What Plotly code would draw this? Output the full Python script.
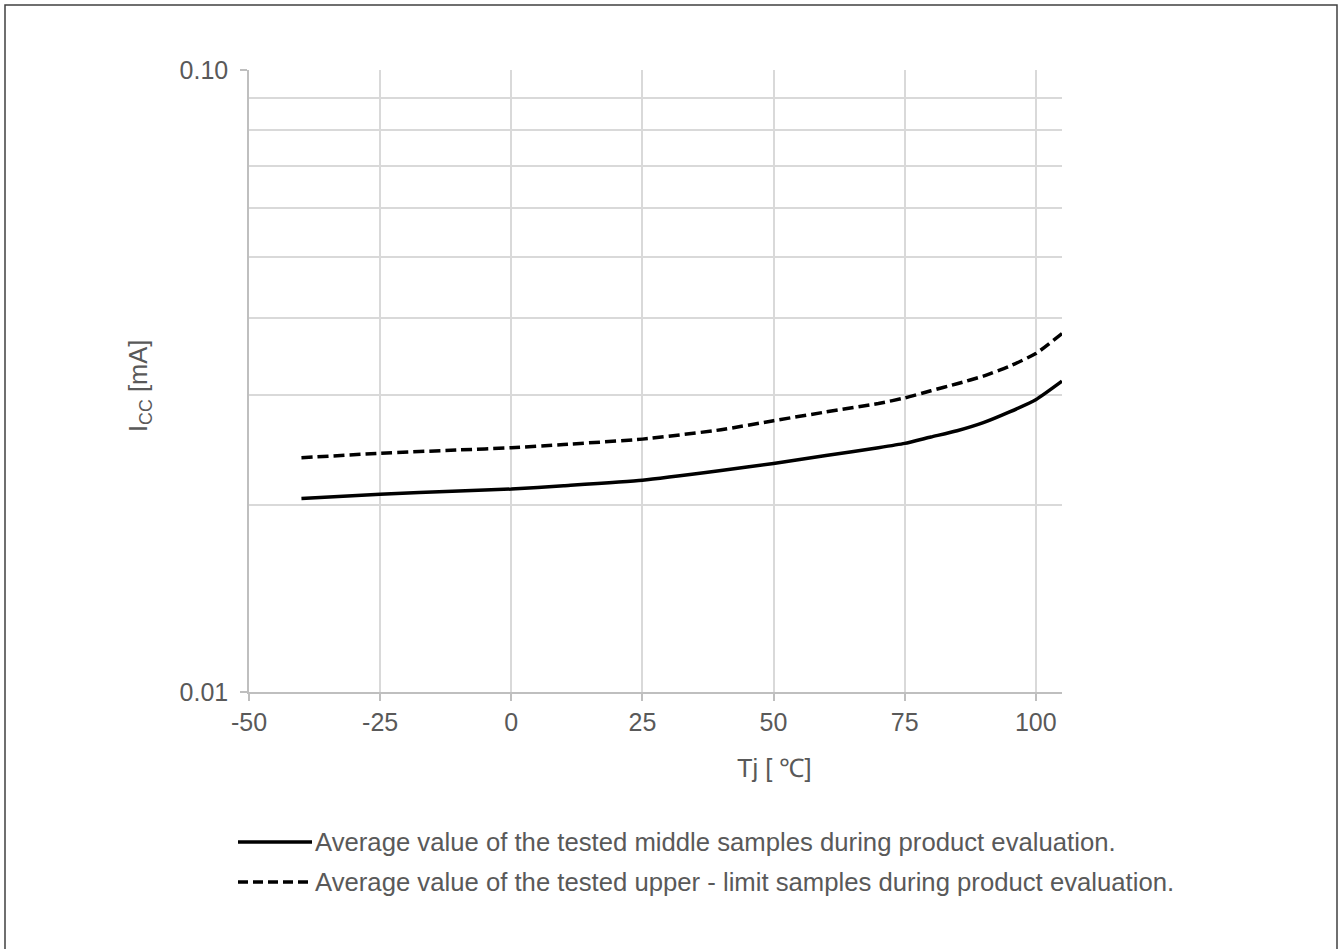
import plotly.graph_objects as go

# ---- data ----
tj = [-40, -25, -10, 0, 10, 25, 40, 50, 60, 70, 75, 80, 85, 90, 95, 100, 105]
icc_middle = [0.02046, 0.0208, 0.02105, 0.0212, 0.02146, 0.0219, 0.0227, 0.0233, 0.0240,
              0.0247, 0.0251, 0.0257, 0.0263, 0.0271, 0.0282, 0.0295, 0.0316]
icc_upper = [0.0238, 0.0242, 0.0245, 0.0247, 0.0250, 0.0255, 0.0264, 0.0273, 0.0282,
             0.0291, 0.0297, 0.0305, 0.0313, 0.0322, 0.0334, 0.0350, 0.0377]
x_ticks = [-50, -25, 0, 25, 50, 75, 100]
x_ticktext = [str(v) for v in x_ticks]
y_ticks = [0.01, 0.1]
y_ticktext = ["0.01", "0.10"]
y_minor = [0.02, 0.03, 0.04, 0.05, 0.06, 0.07, 0.08, 0.09]
legend_texts = [
    "Average value of the tested middle samples during product evaluation.",
    "Average value of the tested upper - limit samples during product evaluation.",
]
x_title = "Tj [ ℃]"
y_title = "I<sub>CC</sub> [mA]"

FONT = "Liberation Sans, Arial, sans-serif"
TXT = "#595959"
GRID = "#d9d9d9"
AX = "#bfbfbf"

W, H = 1339, 949
L, R, T, B = 249, 277, 70, 257
PW, PH = W - L - R, H - T - B


def px(xp):
    return (xp - L) / PW


def py(yp):
    return (H - B - yp) / PH


fig = go.Figure()
fig.add_trace(go.Scatter(x=tj, y=icc_middle, mode="lines", name=legend_texts[0],
                         line=dict(color="black", width=3.5, shape="spline", smoothing=0.5),
                         showlegend=False))
fig.add_trace(go.Scatter(x=tj, y=icc_upper, mode="lines", name=legend_texts[1],
                         line=dict(color="black", width=3.5, dash="11px,5px", shape="spline", smoothing=0.5),
                         showlegend=False))

shapes = []
annotations = []
# legend (drawn manually)
for i, (txt, dash) in enumerate(zip(legend_texts, ["solid", "10px,5px"])):
    yl = py(842 + 40 * i)
    shapes.append(dict(type="line", xref="paper", yref="paper", x0=px(238), x1=px(312),
                       y0=yl, y1=yl, line=dict(color="black", width=3.5, dash=dash)))
    annotations.append(dict(xref="paper", yref="paper", x=px(313), y=yl, text=txt,
                            showarrow=False, xanchor="left", yanchor="middle",
                            font=dict(family=FONT, size=25.7, color=TXT)))
# axis titles
annotations.append(dict(xref="paper", yref="paper", x=px(774), y=py(768), text=x_title,
                        showarrow=False, xanchor="center", yanchor="middle",
                        font=dict(family=FONT, size=25.5, color=TXT)))
annotations.append(dict(xref="paper", yref="paper", x=px(140), y=py(386), text=y_title,
                        showarrow=False, xanchor="center", yanchor="middle", textangle=-90,
                        font=dict(family=FONT, size=25.5, color=TXT)))
# outer frame
shapes.append(dict(type="rect", xref="paper", yref="paper", x0=px(5), x1=px(1337),
                   y0=py(960), y1=py(5), line=dict(color="#404040", width=1.5),
                   fillcolor="rgba(0,0,0,0)"))

fig.update_layout(
    width=W, height=H,
    margin=dict(l=L, r=R, t=T, b=B),
    paper_bgcolor="white", plot_bgcolor="white",
    font=dict(family=FONT, size=25, color=TXT),
    shapes=shapes, annotations=annotations,
)
fig.update_xaxes(
    range=[-50, 105], tickvals=x_ticks, ticktext=x_ticktext, showgrid=True,
    gridcolor=GRID, gridwidth=1.5,
    showline=True, linecolor=AX, linewidth=1.5, ticks="outside", ticklen=7,
    tickcolor=AX, tickwidth=1.5, zeroline=False,
    tickfont=dict(family=FONT, size=25, color=TXT),
)
fig.update_yaxes(
    type="log", range=[-2, -1], tickvals=y_ticks, ticktext=y_ticktext,
    showgrid=True, gridcolor=GRID, gridwidth=1.5,
    showline=True, linecolor=AX, linewidth=1.5, ticks="outside", ticklen=7,
    tickcolor=AX, tickwidth=1.5, zeroline=False, ticklabelstandoff=7,
    minor=dict(tickvals=y_minor, showgrid=True, gridcolor=GRID, gridwidth=1.5, ticks=""),
    tickfont=dict(family=FONT, size=25, color=TXT),
)

fig.write_html("out.html", config={"displayModeBar": False},
               post_script="document.body.style.margin='0';document.body.style.overflow='hidden';")
